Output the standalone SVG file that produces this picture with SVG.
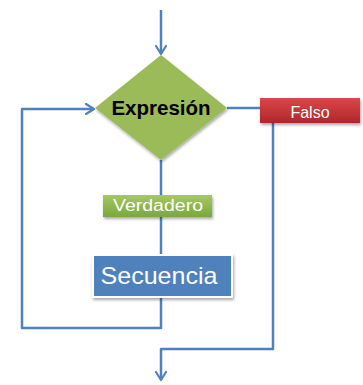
<svg xmlns="http://www.w3.org/2000/svg" width="363" height="385" viewBox="0 0 363 385">
<defs>
<marker id="arr" markerWidth="12" markerHeight="12" refX="10" refY="6" orient="auto" markerUnits="userSpaceOnUse">
<path d="M2,1 L10,6 L2,11" fill="none" stroke="#4f81bd" stroke-width="2.2" stroke-linecap="round" stroke-linejoin="round"/>
</marker>
<linearGradient id="gg" x1="0" y1="0" x2="0" y2="1">
<stop offset="0" stop-color="#a5c865"/><stop offset="1" stop-color="#7aa83a"/>
</linearGradient>
<linearGradient id="rg" x1="0" y1="0" x2="0" y2="1">
<stop offset="0" stop-color="#d9474a"/><stop offset="1" stop-color="#b0262a"/>
</linearGradient>
<filter id="sh" x="-20%" y="-20%" width="150%" height="160%">
<feGaussianBlur in="SourceAlpha" stdDeviation="1.5"/>
<feOffset dx="1" dy="2" result="b"/>
<feComponentTransfer><feFuncA type="linear" slope="0.35"/></feComponentTransfer>
<feMerge><feMergeNode/><feMergeNode in="SourceGraphic"/></feMerge>
</filter>
</defs>
<style>
.ln{fill:none;stroke:#4f81bd;stroke-width:2.5;stroke-linejoin:round}
.t{font-family:"Liberation Sans",Arial,sans-serif}
</style>
<rect width="363" height="385" fill="#ffffff"/>
<g id="connectors">
<path class="ln" d="M161,10 V54" marker-end="url(#arr)"/>
<path class="ln" d="M161,160 V255"/>
<path class="ln" d="M227,108 H262"/>
<path class="ln" d="M161,297 V328 H22 V109 H94" marker-end="url(#arr)"/>
<path class="ln" d="M273,123 V349 H161 V380" marker-end="url(#arr)"/>
</g>
<g id="expresion">
<polygon points="161,55 227,108 161,160 95,108" fill="#9bbb59" filter="url(#sh)"/>
<text class="t" x="161" y="115" font-size="20.5" font-weight="bold" text-anchor="middle" fill="#000">Expresión</text>
</g>
<g id="falso">
<rect x="260" y="98" width="100" height="25" fill="url(#rg)" filter="url(#sh)"/>
<text class="t" x="310" y="118" font-size="16" text-anchor="middle" fill="#ffffff">Falso</text>
</g>
<g id="verdadero">
<rect x="103" y="195" width="109" height="22" fill="url(#gg)" filter="url(#sh)"/>
<text class="t" x="158" y="211" font-size="16" text-anchor="middle" textLength="90" lengthAdjust="spacingAndGlyphs" fill="#ffffff">Verdadero</text>
</g>
<g id="secuencia">
<rect x="93" y="255" width="139" height="42" fill="#4f81bd" stroke="#ffffff" stroke-width="2" filter="url(#sh)"/>
<text class="t" x="159" y="284" font-size="24" text-anchor="middle" textLength="117" lengthAdjust="spacingAndGlyphs" fill="#ffffff">Secuencia</text>
</g>
</svg>
